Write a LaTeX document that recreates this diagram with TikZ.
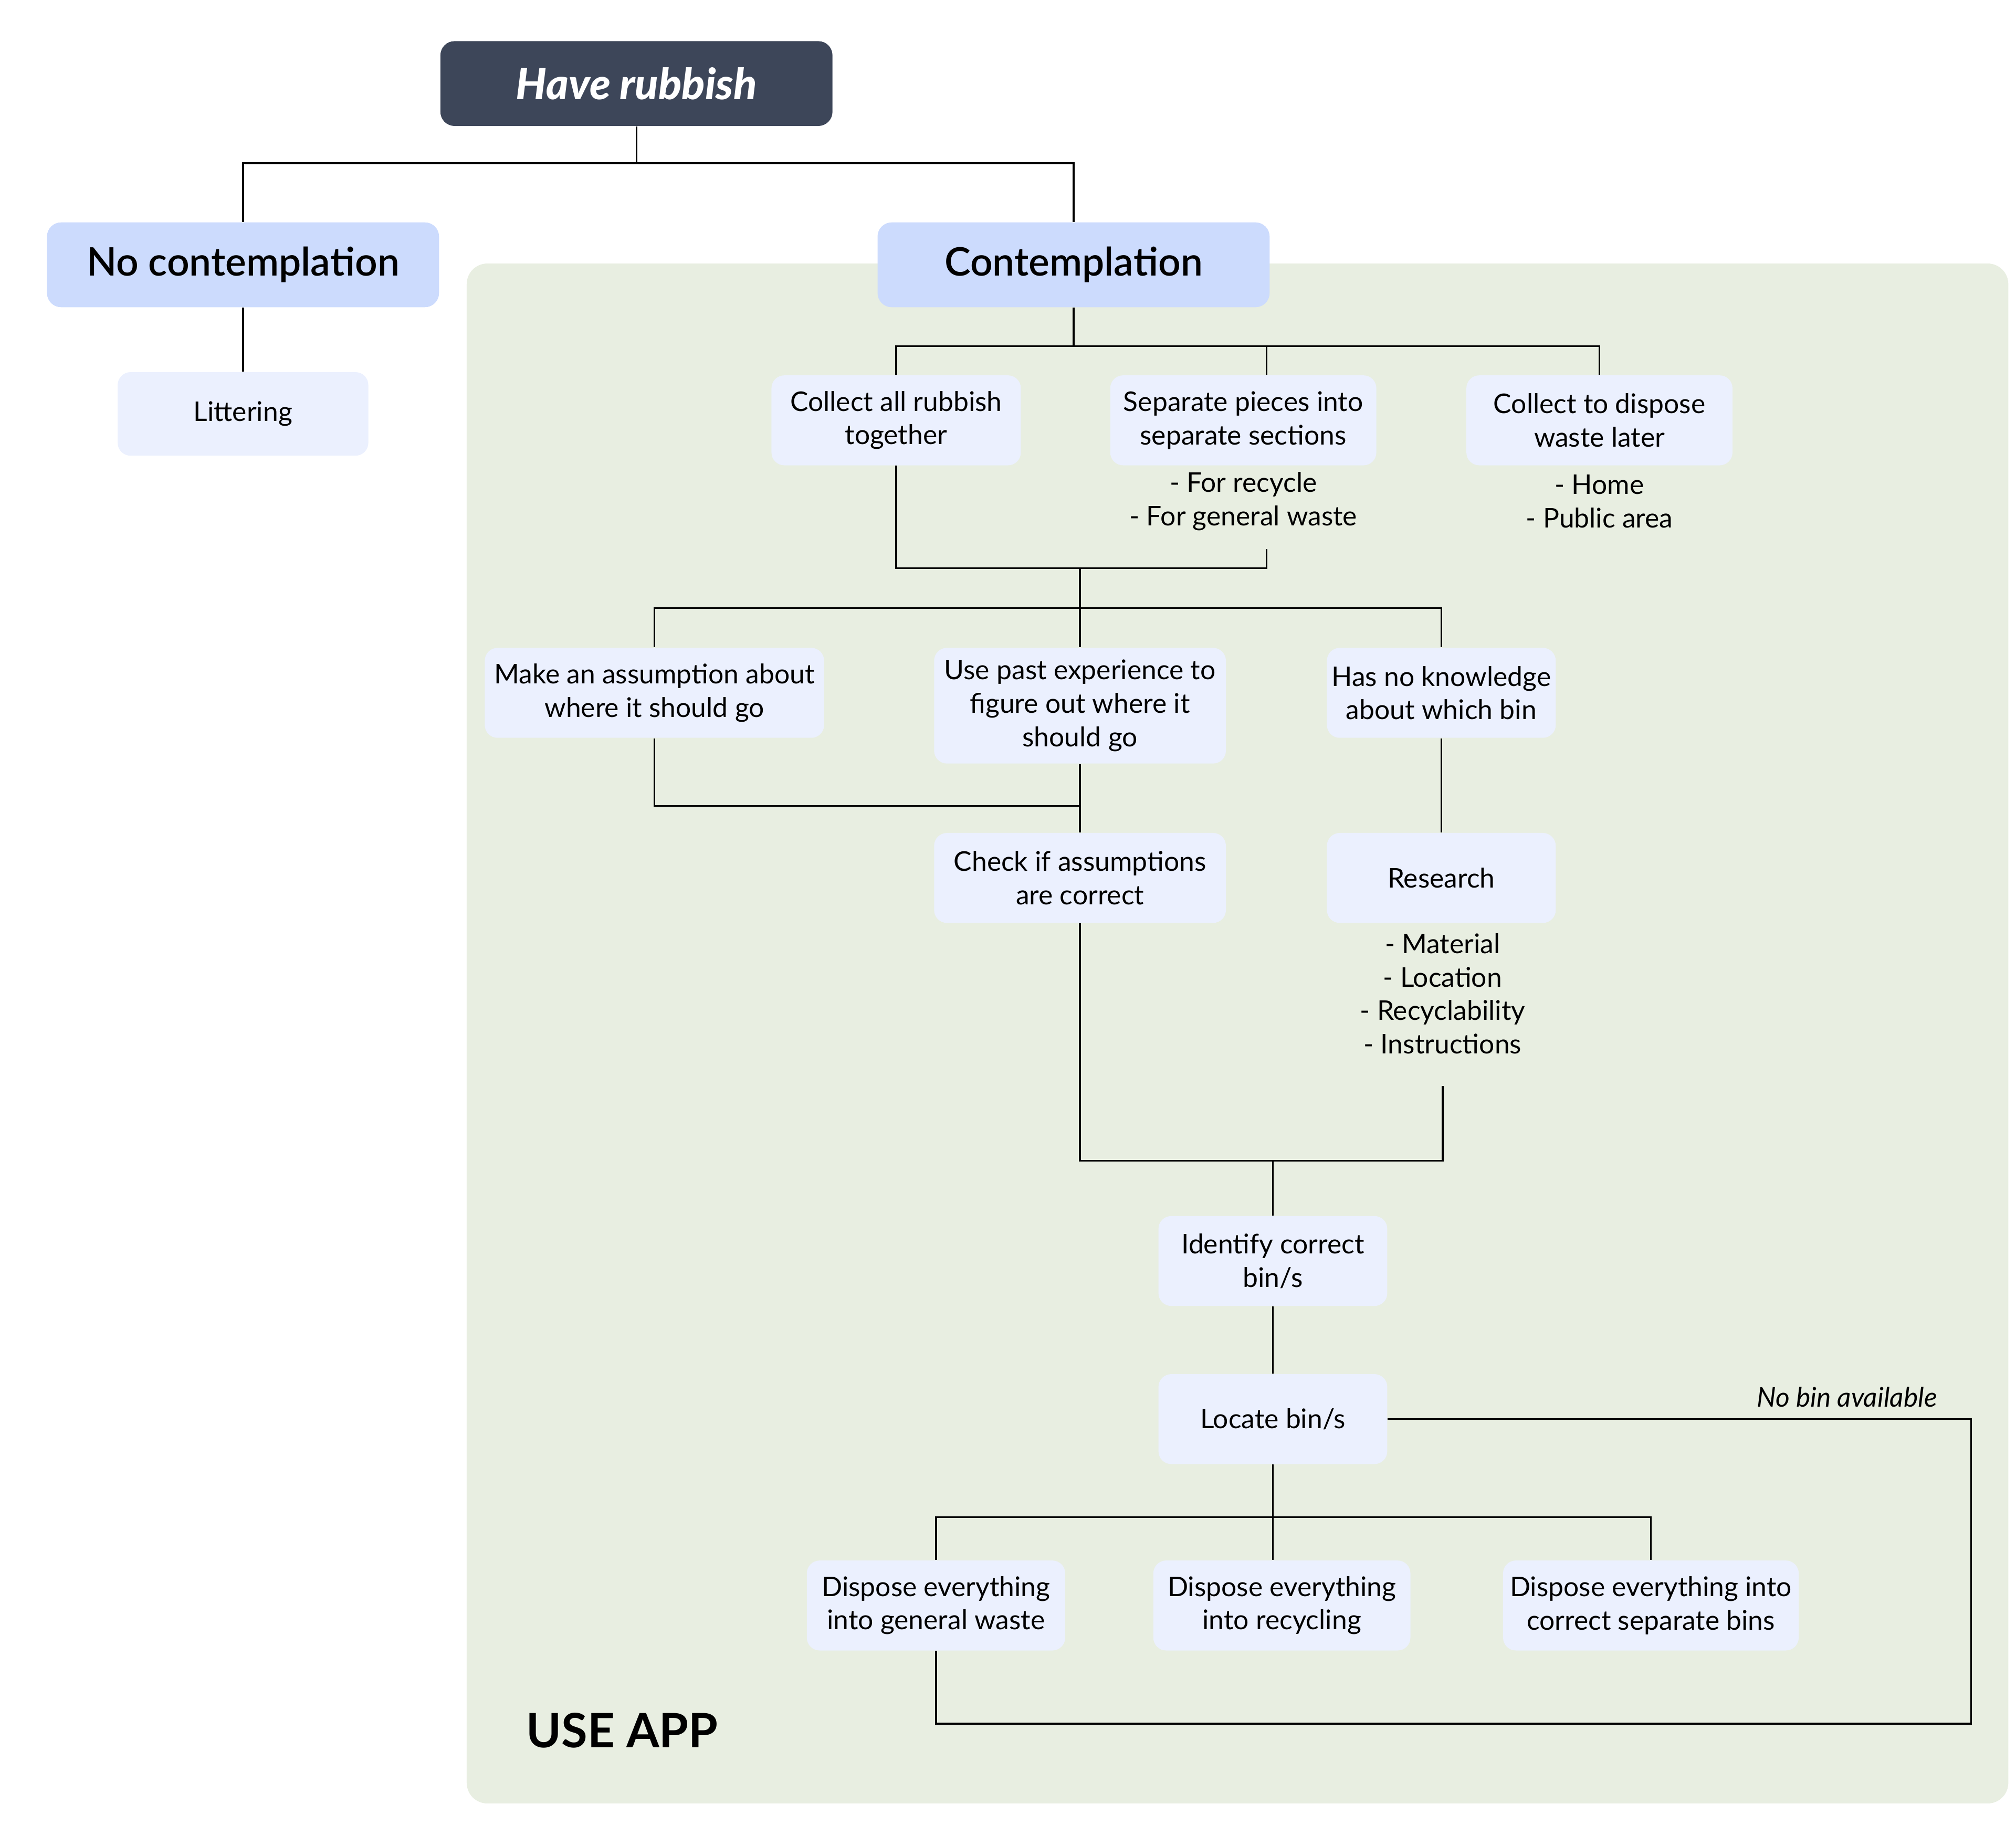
\documentclass[tikz,border=0pt]{standalone}
\usepackage{fontspec}
\setmainfont{Lato}
\IfFontExistsTF{Lato Semibold}{\newfontfamily\semifont{Lato Semibold}}{\newfontfamily\semifont{Lato}}
\IfFontExistsTF{Lato Black Italic}{\newfontfamily\blackfont{Lato Black Italic}}{\newfontfamily\blackfont{Lato Bold Italic}}

\definecolor{headdark}{RGB}{61,70,89}
\definecolor{topicblue}{RGB}{204,219,253}
\definecolor{stepblue}{RGB}{235,240,254}
\definecolor{appgreen}{RGB}{232,238,225}

\begin{document}
\begin{tikzpicture}[x=0.02cm, y=-0.02cm]
        % Define styles for the boxes and lines
        \tikzset{
            stepbox/.style={fill=stepblue, rounded corners=0.2cm, align=center, inner sep=0pt,
                minimum height=1.4cm, font=\fontsize{12}{14.8}\selectfont},
            topicbox/.style={fill=topicblue, rounded corners=0.22cm, inner sep=0pt,
                minimum width=6.1cm, minimum height=1.32cm, font=\semifont\fontsize{17.4}{20}\selectfont},
            notetext/.style={align=center, font=\fontsize{12}{14.8}\selectfont},
            link/.style={line width=0.8pt, black}
        }

        \useasboundingbox (0,0) rectangle (1568,1428);

        % Draw the app area
        \fill[appgreen, rounded corners=0.32cm] (363,205) rectangle (1562,1403);
        \node[anchor=west, inner sep=0pt, font=\bfseries\fontsize{21}{24}\selectfont] (useapp) at (409,1346) {USE APP};

        % Top of the tree
        \node[fill=headdark, rounded corners=0.22cm, minimum width=6.1cm, minimum height=1.32cm,
            text=white, font=\blackfont\fontsize{19}{22}\selectfont] (have) at (495,65) {Have rubbish};
        \node[topicbox] (nocon) at (189,206) {No contemplation};
        \node[topicbox] (con) at (835,206) {Contemplation};
        \node[stepbox, minimum width=3.9cm, minimum height=1.3cm] (litter) at (189,322) {Littering};

        % First steps
        \node[stepbox, minimum width=3.88cm] (collect) at (697,327) {Collect all rubbish\\together};
        \node[stepbox, minimum width=4.14cm] (separate) at (967,327) {Separate pieces into\\separate sections};
        \node[stepbox, minimum width=4.14cm] (later) at (1244,327) {Collect to dispose\\waste later};
        \node[notetext] (sepnote) at (967,390) {- For recycle\\- For general waste};
        \node[notetext] (laternote) at (1244,390) {- Home\\- Public area};

        % Working out the bin
        \node[stepbox, minimum width=5.28cm] (assume) at (509,539) {Make an assumption about\\where it should go};
        \node[stepbox, minimum width=4.54cm, minimum height=1.8cm] (past) at (840,549) {Use past experience to\\figure out where it\\should go};
        \node[stepbox, minimum width=3.56cm] (noknow) at (1121,539) {Has no knowledge\\about which bin};
        \node[stepbox, minimum width=4.54cm] (check) at (840,683) {Check if assumptions\\are correct};
        \node[stepbox, minimum width=3.56cm] (research) at (1121,683) {Research};
        \node[notetext] (resnote) at (1122,773) {- Material\\- Location\\- Recyclability\\- Instructions};

        % Finding the bin
        \node[stepbox, minimum width=3.56cm] (identify) at (990,981) {Identify correct\\bin/s};
        \node[stepbox, minimum width=3.56cm] (locate) at (990,1104) {Locate bin/s};
        \node[anchor=east, inner sep=0pt, font=\itshape\fontsize{12}{14.8}\selectfont] (nobin) at (1507,1087) {No bin available};

        % Disposal
        \node[stepbox, minimum width=4.02cm] (dgeneral) at (728,1249) {Dispose everything\\into general waste};
        \node[stepbox, minimum width=4.0cm] (drecycle) at (997,1249) {Dispose everything\\into recycling};
        \node[stepbox, minimum width=4.6cm] (dseparate) at (1284,1249) {Dispose everything into\\correct separate bins};

        % Junction points
        \coordinate (top) at (495,127);
        \coordinate (sepend) at (985,427);
        \coordinate (merge) at (840,442);
        \coordinate (assumeend) at (840,627);
        \coordinate (resend) at (1122,845);
        \coordinate (found) at (990,903);
        \coordinate (loop) at (1533,1341);

        % Draw the connectors
        \draw[link] (have.south) -- (top);
        \draw[link] (nocon.north) |- (top) -| (con.north);
        \draw[link] (nocon.south) -- (litter.north);

        \draw[link] (con.south) -- ++(0,30) coordinate (split);
        \draw[link] (collect.north) |- (split) -| (later.north);
        \draw[link] (split) -| ([xshift=0.36cm]separate.north);

        \draw[link] (collect.south) |- (merge);
        \draw[link] (sepend) |- (merge);
        \draw[link] (merge) -- ++(0,31) coordinate (ways);
        \draw[link] (assume.north) |- (ways) -| (noknow.north);
        \draw[link] (ways) -- (past.north);

        \draw[link] (assume.south) |- (assumeend);
        \draw[link] (past.south) -- (check.north);
        \draw[link] (noknow.south) -- (research.north);

        \draw[link] (check.south) |- (found);
        \draw[link] (resend) |- (found);
        \draw[link] (found) -- (identify.north);
        \draw[link] (identify.south) -- (locate.north);

        \draw[link] (locate.south) -- ++(0,41) coordinate (bins);
        \draw[link] (dgeneral.north) |- (bins) -| (dseparate.north);
        \draw[link] (bins) -- (bins |- drecycle.north);
        \draw[link] (locate.east) -| (loop) -| (dgeneral.south);

    \end{tikzpicture}
\end{document}
